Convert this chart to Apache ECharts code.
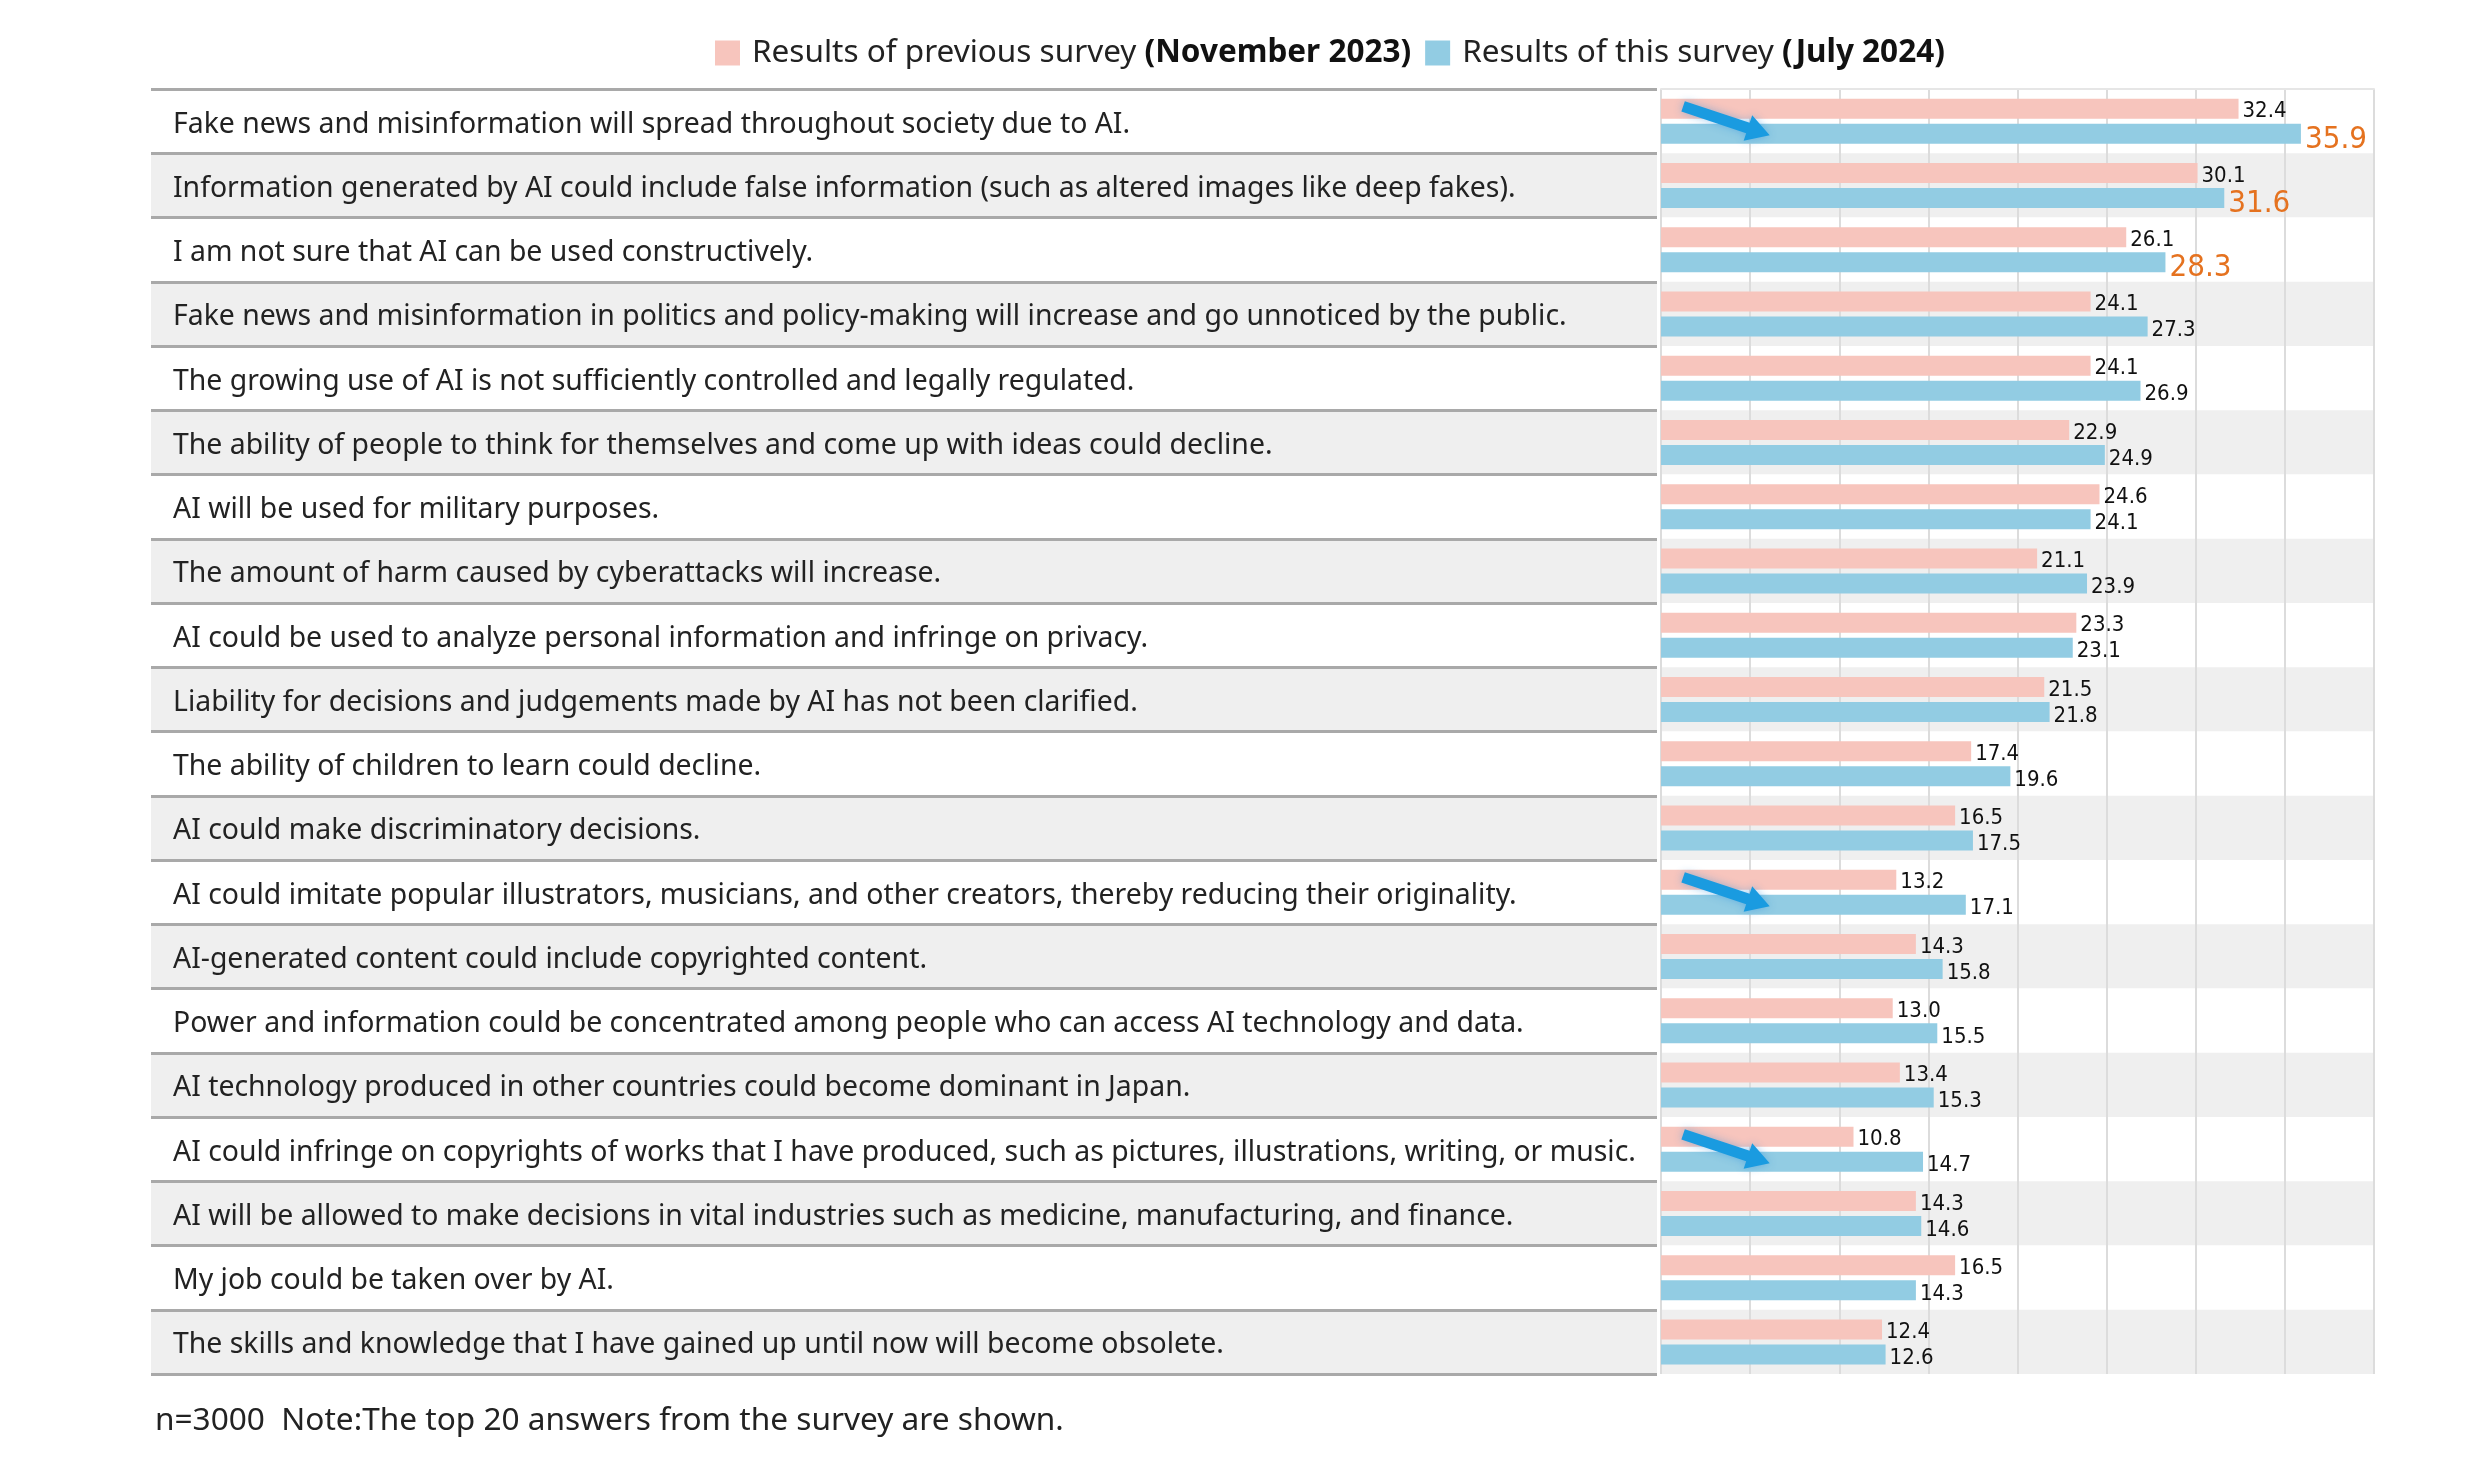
<!DOCTYPE html>
<html><head><meta charset="utf-8">
<script src="https://cdn.jsdelivr.net/npm/echarts@6/dist/echarts.min.js"></script>
<style>html,body{margin:0;padding:0;background:#fff}#c{width:2480px;height:1466px}</style>
</head><body><div id="c"></div>
<script>
const categories = [
  'Fake news and misinformation will spread throughout society due to AI.',
  'Information generated by AI could include false information (such as altered images like deep fakes).',
  'I am not sure that AI can be used constructively.',
  'Fake news and misinformation in politics and policy-making will increase and go unnoticed by the public.',
  'The growing use of AI is not sufficiently controlled and legally regulated.',
  'The ability of people to think for themselves and come up with ideas could decline.',
  'AI will be used for military purposes.',
  'The amount of harm caused by cyberattacks will increase.',
  'AI could be used to analyze personal information and infringe on privacy.',
  'Liability for decisions and judgements made by AI has not been clarified.',
  'The ability of children to learn could decline.',
  'AI could make discriminatory decisions.',
  'AI could imitate popular illustrators, musicians, and other creators, thereby reducing their originality.',
  'AI-generated content could include copyrighted content.',
  'Power and information could be concentrated among people who can access AI technology and data.',
  'AI technology produced in other countries could become dominant in Japan.',
  'AI could infringe on copyrights of works that I have produced, such as pictures, illustrations, writing, or music.',
  'AI will be allowed to make decisions in vital industries such as medicine, manufacturing, and finance.',
  'My job could be taken over by AI.',
  'The skills and knowledge that I have gained up until now will become obsolete.'
];
const previousSurvey = [32.4, 30.1, 26.1, 24.1, 24.1, 22.9, 24.6, 21.1, 23.3, 21.5, 17.4, 16.5, 13.2, 14.3, 13.0, 13.4, 10.8, 14.3, 16.5, 12.4];
const thisSurvey     = [35.9, 31.6, 28.3, 27.3, 26.9, 24.9, 24.1, 23.9, 23.1, 21.8, 19.6, 17.5, 17.1, 15.8, 15.5, 15.3, 14.7, 14.6, 14.3, 12.6];
const seriesNames = ['Results of previous survey (November 2023)', 'Results of this survey (July 2024)'];
const highlightCount = 3;
const arrowRows = [0, 12, 16];
const footnote = 'n=3000  Note:The top 20 answers from the survey are shown.';
const axisMin = 0, axisMax = 40, axisInterval = 5;

const numFont = '"Liberation Sans Narrow","DejaVu Sans Condensed","Noto Sans",sans-serif';
const txtFont = '"Noto Sans",sans-serif';
const chart = echarts.init(document.getElementById('c'), null, {renderer: 'canvas'});

const bandColors = ['#ffffff', '#efefef'];
const option = {
  backgroundColor: '#ffffff',
  animation: false,
  title: {
    text: footnote, left: 150, top: 1400,
    textStyle: {fontFamily: txtFont, fontSize: 31.6, fontWeight: 'normal', color: '#222'}
  },
  legend: {
    left: 710, top: 32, itemWidth: 25, itemHeight: 25, itemGap: 14, icon: 'rect',
    data: seriesNames,
    formatter: function (name) {
      const i = name.indexOf('(');
      return '{n|' + name.slice(0, i) + '}{b|' + name.slice(i) + '}';
    },
    textStyle: {
      fontFamily: txtFont, fontSize: 31.5, color: '#222',
      rich: {
        n: {fontFamily: txtFont, fontSize: 31.5, color: '#222', padding: [0, 0, 0, 7]},
        b: {fontFamily: txtFont, fontSize: 31.5, color: '#111', fontWeight: 'bold'}
      }
    }
  },
  grid: [
    {left: 151, width: 1506, top: 89, height: 1285},
    {left: 1661, width: 713, top: 89, height: 1285}
  ],
  xAxis: [
    {type: 'value', gridIndex: 0, show: false, min: 0, max: 1},
    {type: 'value', gridIndex: 1, position: 'top', min: axisMin, max: axisMax, interval: axisInterval, z: 1,
      axisLabel: {show: false}, axisTick: {show: false},
      axisLine: {show: true, lineStyle: {color: '#e6e6e6', width: 2}},
      splitLine: {show: true, lineStyle: {color: '#dcdcdc', width: 2}}}
  ],
  yAxis: [
    {type: 'category', gridIndex: 0, data: categories, inverse: true,
      axisLine: {show: false}, axisTick: {show: false},
      axisLabel: {inside: true, margin: 22, fontFamily: txtFont, fontSize: 28.4, color: '#222',
        formatter: '{t|{value}}',
        rich: {t: {fontFamily: txtFont, fontSize: 28.4, color: '#222', padding: [7, 0, 0, 0]}}},
      splitLine: {show: true, lineStyle: {color: '#a9a9a9', width: 3}},
      splitArea: {show: true, areaStyle: {color: bandColors}}},
    {type: 'category', gridIndex: 1, data: categories, inverse: true,
      axisLine: {show: false}, axisTick: {show: false}, axisLabel: {show: false},
      splitLine: {show: false},
      splitArea: {show: true, areaStyle: {color: bandColors}}}
  ],
  series: [
    {name: seriesNames[0], type: 'bar', xAxisIndex: 1, yAxisIndex: 1,
      data: previousSurvey, barWidth: 20, barGap: '25%',
      itemStyle: {color: '#f7c5bd'},
      label: {show: true, position: 'right', distance: 4, offset: [0, 3], fontFamily: numFont, fontSize: 22, color: '#111',
        formatter: p => p.value.toFixed(1)}},
    {name: seriesNames[1], type: 'bar', xAxisIndex: 1, yAxisIndex: 1,
      data: thisSurvey.map((v, i) => i < highlightCount
        ? {value: v, label: {color: '#e5721f', fontSize: 31, offset: [0, 6]}} : v),
      barWidth: 20, barGap: '25%',
      itemStyle: {color: '#92cce3'},
      label: {show: true, position: 'right', distance: 4, offset: [0, 4], fontFamily: numFont, fontSize: 22, color: '#111',
        formatter: p => p.value.toFixed(1)}}
  ]
};
chart.setOption(option);

// annotation arrows positioned through the axes
function arrowPoints(S, E, w, h, L) {
  const dx = E[0] - S[0], dy = E[1] - S[1];
  const len = Math.hypot(dx, dy);
  const ux = dx / len, uy = dy / len, nx = -uy, ny = ux;
  const B = [E[0] - ux * L, E[1] - uy * L];
  return [
    [S[0] + nx * w, S[1] + ny * w], [B[0] + nx * w, B[1] + ny * w], [B[0] + nx * h, B[1] + ny * h],
    E, [B[0] - nx * h, B[1] - ny * h], [B[0] - nx * w, B[1] - ny * w], [S[0] - nx * w, S[1] - ny * w]
  ];
}
const p0 = chart.convertToPixel({gridIndex: 1}, [0, 0]);
const p1 = chart.convertToPixel({gridIndex: 1}, [0, 1]);
const band = p1[1] - p0[1];
const graphics = arrowRows.map((r, k) => {
  const c = chart.convertToPixel({gridIndex: 1}, [1.24, r]);
  const e = chart.convertToPixel({gridIndex: 1}, [6.1, r]);
  const S = [c[0], c[1] - 0.23 * band];
  const E = [e[0], e[1] + 0.22 * band];
  return {
    type: 'polygon', id: 'arrow' + k, z: 100,
    shape: {points: arrowPoints(S, E, 5.5, 13.5, 23)},
    style: {fill: '#1a9be0', shadowBlur: 8, shadowColor: 'rgba(40,140,220,0.45)'}
  };
});
chart.setOption({graphic: graphics});
</script>
</body></html>
